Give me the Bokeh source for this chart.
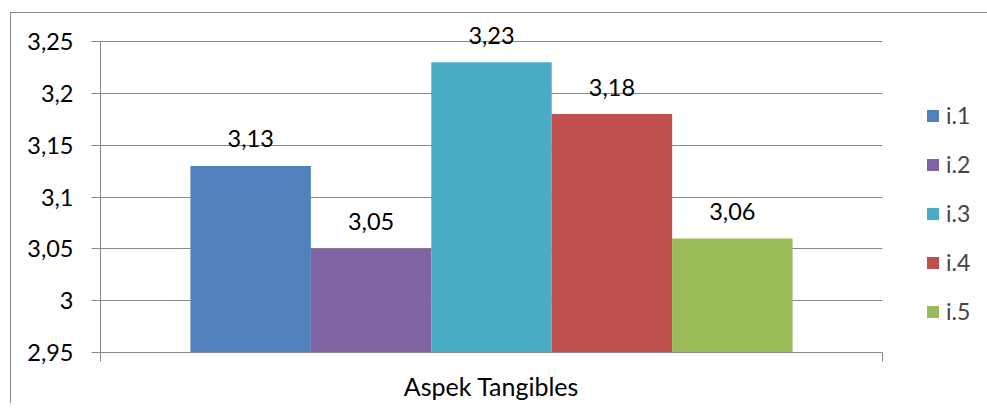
from bokeh.plotting import figure
from bokeh.models import (Range1d, FixedTicker, CustomJSTickFormatter, Legend, LegendItem,
                          ColumnDataSource, Label)
from bokeh.embed import file_html
from bokeh.resources import INLINE

category = ["Aspek Tangibles"]
series = ["i.1", "i.2", "i.3", "i.4", "i.5"]
values = [3.13, 3.05, 3.23, 3.18, 3.06]
value_labels = ["3,13", "3,05", "3,23", "3,18", "3,06"]
colors = ["#4F81BD", "#8064A2", "#4BACC6", "#C0504D", "#9BBB59"]
y_ticks = [2.95, 3.0, 3.05, 3.1, 3.15, 3.2, 3.25]
y_start, y_end = 2.95, 3.25

FONT = "Lato"
NUM_FS = "23.5px"
GRAY = "#888888"

# plot area is 311 px tall for the axis span; 28 px of headroom above it for the data labels
AXIS_PX = 311
HEAD_PX = 28
y_top = y_end + HEAD_PX * (y_end - y_start) / AXIS_PX

n_cat = len(category)
p = figure(x_range=Range1d(0, n_cat), y_range=Range1d(y_start, y_top),
           frame_width=782, frame_height=AXIS_PX + HEAD_PX,
           min_border_left=89, min_border_right=96, min_border_top=0, min_border_bottom=50,
           output_backend="svg", toolbar_location=None)
p.styles = {"margin-left": "10px", "margin-top": "12px",
            "border-left": "1px solid #878787", "border-top": "1px solid #878787",
            "border-right": "none", "border-bottom": "none"}
p.outline_line_color = None
p.xgrid.grid_line_color = None
p.ygrid.grid_line_color = GRAY
p.ygrid.grid_line_width = 1.2

# y axis
ya = p.yaxis[0]
ya.ticker = FixedTicker(ticks=y_ticks)
ya.bounds = (y_start, y_end)
ya.formatter = CustomJSTickFormatter(
    code="return tick.toFixed(2).replace(/0+$/,'').replace(/\\.$/,'').replace('.',',');")
ya.axis_line_color = GRAY
ya.major_tick_line_color = GRAY
ya.major_tick_out = 9
ya.major_tick_in = 0
ya.minor_tick_line_color = None
ya.major_label_text_font = FONT
ya.major_label_text_font_size = NUM_FS
ya.major_label_text_color = "black"
ya.major_label_standoff = 18

# x axis: category label at centre, tick marks at category boundaries
cat_centers = [k + 0.5 for k in range(n_cat)]
xa = p.xaxis[0]
xa.ticker = FixedTicker(ticks=cat_centers, minor_ticks=list(range(n_cat + 1)))
xa.major_label_overrides = {c: name for c, name in zip(cat_centers, category)}
xa.axis_line_color = GRAY
xa.major_tick_line_color = None
xa.minor_tick_line_color = GRAY
xa.minor_tick_out = 9
xa.minor_tick_in = 0
xa.major_label_text_font = FONT
xa.major_label_text_font_size = "25px"
xa.major_label_text_color = "black"
xa.major_label_standoff = 9

bar_w = 0.154
items = []
for i, s in enumerate(series):
    off = (i - (len(series) - 1) / 2) * bar_w
    xs = [c + off for c in cat_centers]
    src = ColumnDataSource(dict(x=xs, value=[values[i]]))
    r = p.vbar(x="x", top="value", bottom=y_start, width=bar_w, source=src,
               fill_color=colors[i], line_color=None)
    p.add_layout(Label(x=xs[0], y=values[i], text=value_labels[i], y_offset=27,
                       text_align="center", text_baseline="alphabetic",
                       text_font=FONT, text_font_size=NUM_FS, text_color="black"))
    items.append(LegendItem(label=s, renderers=[r]))

legend = Legend(items=items, location=(43, 27), orientation="vertical",
                glyph_width=15, glyph_height=15, label_height=15, spacing=21,
                padding=0, margin=0, border_line_color=None, background_fill_alpha=0,
                label_text_font=FONT, label_text_font_size="23px", label_standoff=6)
p.add_layout(legend, "right")

open("out.html", "w").write(file_html(p, INLINE))
